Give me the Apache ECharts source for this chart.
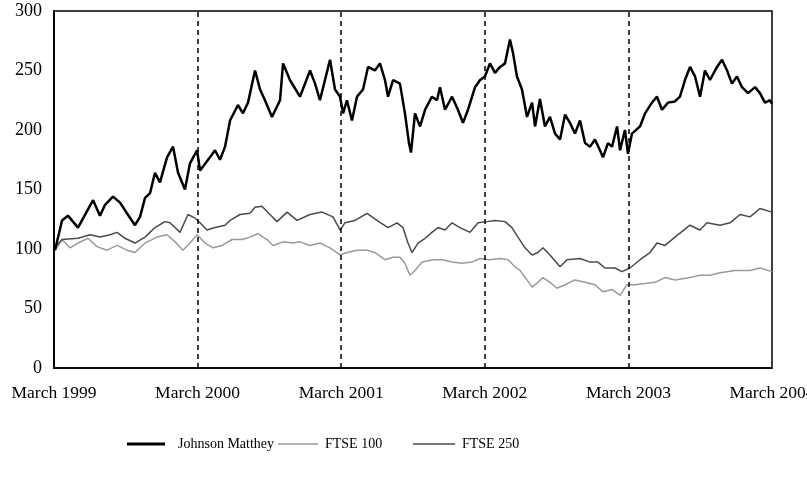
<!DOCTYPE html>
<html>
<head>
<meta charset="utf-8">
<script src="https://cdn.jsdelivr.net/npm/echarts@6/dist/echarts.min.js"></script>
<style>
html,body{margin:0;padding:0;background:#fff;}
#c{width:807px;height:482px;}
</style>
</head>
<body>
<div id="c"></div>
<script>
// x values are years since March 1999
const tickLabels = ['March 1999','March 2000','March 2001','March 2002','March 2003','March 2004'];
const yTicks = [0,50,100,150,200,250,300];
const dividerYears = [1,2,3,4];
const seriesNames = ['Johnson Matthey','FTSE 100','FTSE 250'];

const jmT = [0.007,0.056,0.097,0.167,0.272,0.320,0.355,0.411,0.460,0.508,0.564,0.599,0.634,0.669,0.703,0.738,0.787,0.829,0.864,0.912,0.947,0.996,1.017,1.086,1.121,1.156,1.191,1.226,1.281,1.316,1.351,1.400,1.435,1.469,1.518,1.574,1.595,1.643,1.713,1.748,1.783,1.818,1.852,1.887,1.922,1.957,1.992,2.013,2.040,2.075,2.110,2.152,2.187,2.235,2.270,2.305,2.326,2.361,2.409,2.444,2.472,2.486,2.514,2.549,2.584,2.632,2.667,2.688,2.723,2.772,2.813,2.848,2.883,2.932,2.967,3.001,3.036,3.071,3.106,3.141,3.175,3.196,3.224,3.259,3.294,3.329,3.350,3.384,3.419,3.454,3.489,3.524,3.559,3.593,3.628,3.663,3.698,3.733,3.767,3.802,3.823,3.858,3.886,3.921,3.942,3.976,3.997,4.025,4.081,4.116,4.164,4.199,4.234,4.276,4.324,4.359,4.394,4.429,4.464,4.499,4.533,4.568,4.617,4.652,4.687,4.721,4.756,4.791,4.833,4.882,4.916,4.951,4.986,5.0];
const jmV = [99,124,128,118,141,128,137,144,139,130,120,127,143,147,164,156,177,186,164,150,172,183,166,177,183,175,186,208,221,214,223,250,234,225,211,225,256,242,228,239,250,239,225,242,259,234,228,214,225,208,228,234,253,250,256,242,228,242,239,214,189,181,214,203,217,228,225,236,217,228,217,206,217,236,242,245,256,248,253,256,276,265,245,234,211,223,203,226,203,211,197,192,213,206,197,208,189,186,192,183,177,189,186,203,183,200,180,197,203,214,223,228,217,223,224,228,242,253,245,228,250,242,253,259,250,239,245,236,231,236,231,223,225,222];

const f100T = [0.007,0.056,0.111,0.167,0.237,0.299,0.369,0.439,0.508,0.564,0.634,0.717,0.787,0.843,0.898,0.947,0.996,1.052,1.107,1.170,1.240,1.309,1.365,1.421,1.469,1.483,1.525,1.595,1.664,1.713,1.783,1.852,1.922,1.992,2.040,2.110,2.180,2.235,2.305,2.361,2.409,2.444,2.479,2.514,2.563,2.639,2.702,2.772,2.841,2.911,2.967,3.036,3.106,3.162,3.210,3.245,3.294,3.329,3.370,3.405,3.454,3.503,3.559,3.628,3.698,3.767,3.823,3.886,3.942,3.990,4.046,4.116,4.185,4.255,4.324,4.429,4.499,4.568,4.638,4.742,4.847,4.916,5.0];
const f100V = [99,108,101,105,109,102,99,103,99,97,105,110,112,106,99,105,112,105,101,103,108,108,110,113,109,108,103,106,105,106,103,105,101,95,97,99,99,97,91,93,93,88,78,82,89,91,91,89,88,89,92,91,92,91,85,82,74,68,72,76,72,67,70,74,72,70,64,66,61,70,70,71,72,76,74,76,78,78,80,82,82,84,81];

const f250T = [0.007,0.056,0.167,0.251,0.320,0.390,0.439,0.494,0.564,0.634,0.703,0.773,0.808,0.843,0.877,0.933,0.982,1.017,1.065,1.121,1.191,1.226,1.295,1.365,1.400,1.448,1.504,1.553,1.623,1.692,1.783,1.866,1.943,1.992,2.026,2.096,2.180,2.249,2.326,2.389,2.430,2.465,2.493,2.535,2.584,2.632,2.674,2.723,2.772,2.827,2.897,2.953,3.015,3.071,3.141,3.189,3.231,3.280,3.329,3.370,3.405,3.454,3.524,3.572,3.663,3.733,3.788,3.837,3.907,3.955,4.011,4.081,4.150,4.199,4.255,4.324,4.429,4.499,4.547,4.638,4.708,4.777,4.847,4.916,5.0];
const f250V = [101,108,109,112,110,112,114,109,105,110,118,123,122,118,114,129,126,122,116,118,120,124,129,130,135,136,129,123,131,124,129,131,127,116,122,124,130,124,118,122,118,105,97,105,109,114,118,116,122,118,114,122,123,124,123,118,110,101,95,97,101,95,85,91,92,89,89,84,84,81,84,91,97,105,103,110,120,116,122,120,122,129,127,134,131];

const zip = (t, v) => t.map((x, i) => [x, v[i]]);
const serif = '"Liberation Serif", "DejaVu Serif", serif';
const legendText = (pad) => ({fontFamily: serif, fontSize: 14, color: '#000', padding: [0,0,0,pad]});

const chart = echarts.init(document.getElementById('c'), null, {renderer: 'canvas'});
chart.setOption({
  animation: false,
  backgroundColor: '#fff',
  grid: {left: 54, right: 35, top: 11, bottom: 114, show: true, borderColor: '#000', borderWidth: 1.5, containLabel: false, outerBoundsMode: 'none'},
  xAxis: {
    type: 'value', min: 0, max: 5, interval: 1,
    axisLine: {show: true, lineStyle: {color: '#000', width: 1.5}},
    axisTick: {show: false},
    splitLine: {show: false},
    axisLabel: {
      formatter: v => tickLabels[Math.round(v)],
      fontFamily: serif, fontSize: 17.5, color: '#000', margin: 16,
      hideOverlap: false
    }
  },
  yAxis: {
    type: 'value', min: yTicks[0], max: yTicks[yTicks.length - 1], interval: 50,
    axisLine: {show: true, lineStyle: {color: '#000', width: 2}},
    axisTick: {show: false},
    splitLine: {show: false},
    axisLabel: {fontFamily: serif, fontSize: 18, color: '#000', margin: 12}
  },
  legend: [
    {data: [{name: seriesNames[0], icon: 'rect'}], left: 122, top: 432, itemWidth: 38, itemHeight: 3, textStyle: legendText(8)},
    {data: [{name: seriesNames[1], icon: 'rect'}], left: 273, top: 432, itemWidth: 40, itemHeight: 1.5, textStyle: legendText(2)},
    {data: [{name: seriesNames[2], icon: 'rect'}], left: 408, top: 432, itemWidth: 42, itemHeight: 1.5, textStyle: legendText(2)}
  ],
  series: [
    {
      name: seriesNames[1], type: 'line', symbol: 'none', data: zip(f100T, f100V),
      lineStyle: {color: '#9a9a9a', width: 1.5}, itemStyle: {color: '#9a9a9a'}, z: 2
    },
    {
      name: seriesNames[2], type: 'line', symbol: 'none', data: zip(f250T, f250V),
      lineStyle: {color: '#4a4a4a', width: 1.5}, itemStyle: {color: '#4a4a4a'}, z: 3,
      markLine: {
        silent: true, symbol: ['none','none'], label: {show: false},
        lineStyle: {color: '#000', type: [5,4], width: 1.5},
        data: dividerYears.map(y => ({xAxis: y}))
      }
    },
    {
      name: seriesNames[0], type: 'line', symbol: 'none', data: zip(jmT, jmV),
      lineStyle: {color: '#000', width: 2.5}, itemStyle: {color: '#000'}, z: 4
    }
  ]
});
</script>
</body>
</html>
